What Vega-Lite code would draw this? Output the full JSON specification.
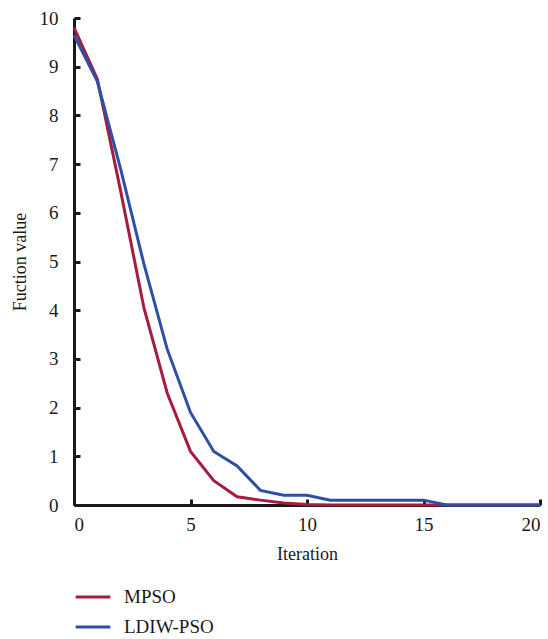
{
  "$schema": "https://vega.github.io/schema/vega-lite/v6.json",
  "width": 466,
  "height": 487,
  "autosize": "none",
  "padding": {"left": 74, "top": 18, "right": 8, "bottom": 134},
  "background": "white",
  "config": {
    "view": {"stroke": null},
    "font": "Liberation Serif",
    "axis": {
      "domainColor": "#1a1a1a",
      "domainWidth": 3,
      "tickColor": "#1a1a1a",
      "tickWidth": 3,
      "tickSize": -6,
      "grid": false,
      "labelFont": "Liberation Serif",
      "labelFontSize": 19,
      "labelColor": "#1a1a1a",
      "titleFont": "Liberation Serif",
      "titleFontSize": 18,
      "titleFontWeight": "normal",
      "titleColor": "#1a1a1a"
    },
    "legend": {
      "labelFont": "Liberation Serif",
      "labelFontSize": 19,
      "labelColor": "#1a1a1a"
    }
  },
  "data": {
    "values": [
      {"iteration": 0, "value": 9.8, "method": "MPSO"},
      {"iteration": 1, "value": 8.75, "method": "MPSO"},
      {"iteration": 2, "value": 6.45, "method": "MPSO"},
      {"iteration": 3, "value": 4.05, "method": "MPSO"},
      {"iteration": 4, "value": 2.3, "method": "MPSO"},
      {"iteration": 5, "value": 1.1, "method": "MPSO"},
      {"iteration": 6, "value": 0.5, "method": "MPSO"},
      {"iteration": 7, "value": 0.17, "method": "MPSO"},
      {"iteration": 8, "value": 0.1, "method": "MPSO"},
      {"iteration": 9, "value": 0.04, "method": "MPSO"},
      {"iteration": 10, "value": 0.01, "method": "MPSO"},
      {"iteration": 11, "value": 0, "method": "MPSO"},
      {"iteration": 12, "value": 0, "method": "MPSO"},
      {"iteration": 13, "value": 0, "method": "MPSO"},
      {"iteration": 14, "value": 0, "method": "MPSO"},
      {"iteration": 15, "value": 0, "method": "MPSO"},
      {"iteration": 16, "value": 0, "method": "MPSO"},
      {"iteration": 17, "value": 0, "method": "MPSO"},
      {"iteration": 18, "value": 0, "method": "MPSO"},
      {"iteration": 19, "value": 0, "method": "MPSO"},
      {"iteration": 20, "value": 0, "method": "MPSO"},
      {"iteration": 0, "value": 9.65, "method": "LDIW-PSO"},
      {"iteration": 1, "value": 8.7, "method": "LDIW-PSO"},
      {"iteration": 2, "value": 6.9, "method": "LDIW-PSO"},
      {"iteration": 3, "value": 4.95, "method": "LDIW-PSO"},
      {"iteration": 4, "value": 3.2, "method": "LDIW-PSO"},
      {"iteration": 5, "value": 1.9, "method": "LDIW-PSO"},
      {"iteration": 6, "value": 1.1, "method": "LDIW-PSO"},
      {"iteration": 7, "value": 0.8, "method": "LDIW-PSO"},
      {"iteration": 8, "value": 0.3, "method": "LDIW-PSO"},
      {"iteration": 9, "value": 0.2, "method": "LDIW-PSO"},
      {"iteration": 10, "value": 0.2, "method": "LDIW-PSO"},
      {"iteration": 11, "value": 0.1, "method": "LDIW-PSO"},
      {"iteration": 12, "value": 0.1, "method": "LDIW-PSO"},
      {"iteration": 13, "value": 0.1, "method": "LDIW-PSO"},
      {"iteration": 14, "value": 0.1, "method": "LDIW-PSO"},
      {"iteration": 15, "value": 0.1, "method": "LDIW-PSO"},
      {"iteration": 16, "value": 0, "method": "LDIW-PSO"},
      {"iteration": 17, "value": 0, "method": "LDIW-PSO"},
      {"iteration": 18, "value": 0, "method": "LDIW-PSO"},
      {"iteration": 19, "value": 0, "method": "LDIW-PSO"},
      {"iteration": 20, "value": 0, "method": "LDIW-PSO"}
    ]
  },
  "mark": {"type": "line", "strokeWidth": 3, "clip": false},
  "encoding": {
    "x": {
      "field": "iteration",
      "type": "quantitative",
      "scale": {"domain": [0, 20], "nice": false},
      "axis": {
        "values": [0, 5, 10, 15, 20],
        "title": "Iteration",
        "labelPadding": 16,
        "titlePadding": 11
      }
    },
    "y": {
      "field": "value",
      "type": "quantitative",
      "scale": {"domain": [0, 10], "nice": false},
      "axis": {
        "values": [0, 1, 2, 3, 4, 5, 6, 7, 8, 9, 10],
        "title": "Fuction value",
        "labelPadding": 22,
        "titlePadding": 10
      }
    },
    "color": {
      "field": "method",
      "type": "nominal",
      "sort": ["MPSO", "LDIW-PSO"],
      "scale": {"domain": ["MPSO", "LDIW-PSO"], "range": ["#a51c3e", "#2d4fa6"]},
      "legend": {
        "title": null,
        "orient": "none",
        "legendX": 0,
        "legendY": 560,
        "direction": "vertical",
        "symbolType": "stroke",
        "symbolSize": 1200,
        "symbolStrokeWidth": 3,
        "rowPadding": 1,
        "labelOffset": 12
      }
    }
  }
}
